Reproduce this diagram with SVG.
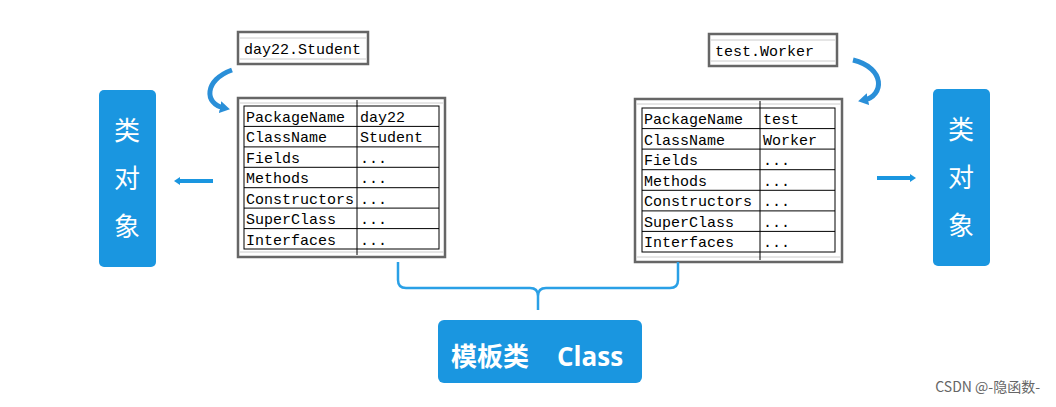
<svg xmlns="http://www.w3.org/2000/svg" width="1056" height="407" viewBox="0 0 1056 407">
<defs>
<style>
.mono{font-family:"Liberation Mono",monospace;font-size:15px;fill:#000}
.grid{fill:none;stroke:#000;stroke-width:1}
.outer{fill:#fff;stroke:#666;stroke-width:2.5}
.light{stroke:#ccc;stroke-width:1}
.blue{fill:#1a96e0}
.cn{font-family:"Noto Sans CJK SC",sans-serif;font-size:26px;fill:#fff;text-anchor:middle}
.conn{fill:none;stroke:#2aa0e6;stroke-width:2.5}
</style>
<marker id="ah" markerWidth="12" markerHeight="12" refX="4" refY="6" orient="auto" markerUnits="userSpaceOnUse"><path d="M0,0 L10,6 L0,12 Z" fill="#2a8fd8"/></marker>
<marker id="ah2" markerWidth="8" markerHeight="8" refX="2" refY="4" orient="auto" markerUnits="userSpaceOnUse"><path d="M0,0 L6,4 L0,8 Z" fill="#1a96e0"/></marker>
</defs>
<rect width="1056" height="407" fill="#fff"/>
<g id="labelLeft">
<rect x="238" y="32" width="130" height="32" class="outer"/>
<line x1="240" y1="38" x2="366" y2="38" class="light"/><line x1="240" y1="59" x2="366" y2="59" class="light"/>
<text x="244" y="54" class="mono">day22.Student</text>
</g>
<g id="labelRight">
<rect x="709" y="34" width="128" height="32" class="outer"/>
<line x1="711" y1="40" x2="835" y2="40" class="light"/><line x1="711" y1="61" x2="835" y2="61" class="light"/>
<text x="715" y="56" class="mono">test.Worker</text>
</g>
<g id="tableLeft">
<rect x="238" y="98" width="207" height="159" class="outer"/>
<line x1="240" y1="103" x2="443" y2="103" class="light"/><line x1="240" y1="252" x2="443" y2="252" class="light"/>
<rect x="244" y="106" width="195" height="143" class="grid"/>
<line x1="357" y1="100" x2="357" y2="255" class="grid"/>
<g class="grid"><line x1="244" y1="126.4" x2="439" y2="126.4"/><line x1="244" y1="146.9" x2="439" y2="146.9"/><line x1="244" y1="167.3" x2="439" y2="167.3"/><line x1="244" y1="187.7" x2="439" y2="187.7"/><line x1="244" y1="208.1" x2="439" y2="208.1"/><line x1="244" y1="228.6" x2="439" y2="228.6"/></g>
<g class="mono">
<text x="246" y="122">PackageName</text><text x="360" y="122">day22</text>
<text x="246" y="142">ClassName</text><text x="360" y="142">Student</text>
<text x="246" y="163">Fields</text><text x="360" y="163">...</text>
<text x="246" y="183">Methods</text><text x="360" y="183">...</text>
<text x="246" y="204">Constructors</text><text x="360" y="204">...</text>
<text x="246" y="224">SuperClass</text><text x="360" y="224">...</text>
<text x="246" y="245">Interfaces</text><text x="360" y="245">...</text>
</g>
</g>
<g id="tableRight">
<rect x="635" y="99" width="207" height="163" class="outer"/>
<line x1="637" y1="104" x2="840" y2="104" class="light"/><line x1="637" y1="257" x2="840" y2="257" class="light"/>
<rect x="642" y="108" width="193" height="144" class="grid"/>
<line x1="760" y1="101" x2="760" y2="260" class="grid"/>
<g class="grid"><line x1="642" y1="128.6" x2="835" y2="128.6"/><line x1="642" y1="149.1" x2="835" y2="149.1"/><line x1="642" y1="169.7" x2="835" y2="169.7"/><line x1="642" y1="190.3" x2="835" y2="190.3"/><line x1="642" y1="210.9" x2="835" y2="210.9"/><line x1="642" y1="231.4" x2="835" y2="231.4"/></g>
<g class="mono">
<text x="644" y="124">PackageName</text><text x="763" y="124">test</text>
<text x="644" y="145">ClassName</text><text x="763" y="145">Worker</text>
<text x="644" y="165">Fields</text><text x="763" y="165">...</text>
<text x="644" y="186">Methods</text><text x="763" y="186">...</text>
<text x="644" y="206">Constructors</text><text x="763" y="206">...</text>
<text x="644" y="227">SuperClass</text><text x="763" y="227">...</text>
<text x="644" y="247">Interfaces</text><text x="763" y="247">...</text>
</g>
</g>
<g id="objLeft"><rect x="99" y="90" width="57" height="177" rx="5" class="blue"/>
<text x="127" y="140" class="cn">类</text><text x="127" y="188" class="cn">对</text><text x="127" y="236" class="cn">象</text></g>
<g id="objRight"><rect x="933" y="89" width="57" height="177" rx="5" class="blue"/>
<text x="961" y="139" class="cn">类</text><text x="961" y="187" class="cn">对</text><text x="961" y="235" class="cn">象</text></g>
<g id="classBox"><rect x="438" y="320" width="204" height="63" rx="6" class="blue"/>
<text y="366" font-family="'Open Sans','Noto Sans CJK SC',sans-serif" font-size="26" font-weight="bold" fill="#fff"><tspan x="451">模板类</tspan><tspan x="557">Class</tspan></text></g>
<g id="connectors">
<path d="M232,70 C204,80 204,104 224,108" stroke="#2a8fd8" stroke-width="5" fill="none" marker-end="url(#ah)"/>
<path d="M853,60 C886,68 884,96 864,100" stroke="#2a8fd8" stroke-width="5" fill="none" marker-end="url(#ah)"/>
<line x1="213" y1="181" x2="178" y2="181" stroke="#1a96e0" stroke-width="4" marker-end="url(#ah2)"/>
<line x1="877" y1="178" x2="912" y2="178" stroke="#1a96e0" stroke-width="4" marker-end="url(#ah2)"/>
<path d="M398,262 V280 Q398,288 406,288 H530 Q538,288 538,296 V310 M538,296 Q538,288 546,288 H670 Q678,288 678,280 V262" class="conn"/>
</g>
<text x="1040" y="392" font-family="'Noto Sans CJK SC',sans-serif" font-size="14" fill="#666" text-anchor="end">CSDN @-隐函数-</text>
</svg>
